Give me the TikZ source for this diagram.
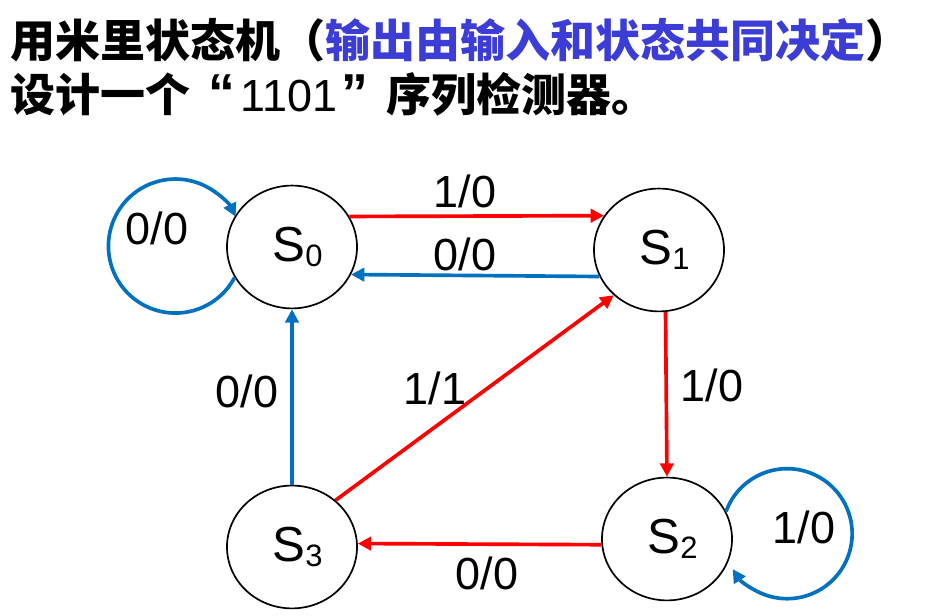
\documentclass[tikz,border=0pt]{standalone}
\usepackage{xcolor}
\usepackage{fontspec}
\setmainfont{Liberation Sans}
\newfontfamily\cjkfont{Noto Sans CJK SC}
\usetikzlibrary{arrows.meta,shapes.geometric}
\definecolor{edgered}{RGB}{255,0,0}
\definecolor{edgeblue}{RGB}{0,112,192}
\definecolor{titleblue}{RGB}{60,60,215}
\newcommand{\statelabel}[1]{\kern8pt S\raisebox{-4pt}{\fontsize{22}{22}\selectfont #1}}

\begin{document}
\begin{tikzpicture}[x=0.025cm, y=0.025cm,
    state/.style={ellipse, draw, line width=1.2pt, minimum width=3.25cm, minimum height=3.07cm, inner sep=0pt, font=\fontsize{35}{35}\selectfont},
    redarr/.style={draw=edgered, line width=2.6pt, -{Triangle[length=9.5pt,width=9.5pt]}},
    bluearr/.style={draw=edgeblue, line width=2.6pt, -{Triangle[length=9.5pt,width=9.5pt]}},
    lbl/.style={inner sep=0pt, font=\fontsize{32}{32}\selectfont},
    title/.style={anchor=west, inner sep=0pt, font=\cjkfont\bfseries\fontsize{32}{32}\selectfont}]
    \useasboundingbox (0,0) rectangle (950,616);
    % title
    \node[title] (title1) at (10,576) {用米里状态机（\textcolor{titleblue}{输出由输入和状态共同决定}）};
    \node[title] (title2) at (10,522) {设计一个\makebox[1em][r]{\rmfamily\bfseries\fontsize{38}{38}\selectfont “}\kern0.12em{\rmfamily\mdseries 1101}\kern0.1em\makebox[1em][l]{\rmfamily\bfseries\fontsize{38}{38}\selectfont ”}序列检测器。};
    % states
    \node[state] (S0) at (292,369) {\statelabel{0}};
    \node[state] (S1) at (659,366) {\statelabel{1}};
    \node[state] (S2) at (667,77) {\statelabel{2}};
    \node[state] (S3) at (292,69) {\statelabel{3}};
    % transitions
    \draw[redarr] (S0.28) -- (S1.148);
    \draw[bluearr] (S1.204) -- (S0.-25);
    \draw[redarr] (S1.-84) -- (S2.north);
    \draw[redarr] (S2.185) -- (S3.3);
    \draw[bluearr] (S3.north) -- (S0.south);
    \draw[redarr] (S3.47) -- (S1.225);
    \draw[bluearr] (S0.208) arc[start angle=-28, end angle=-334, radius=67];
    \draw[bluearr] (S2.25) arc[start angle=160, end angle=-147, radius=65];
    % labels
    \node[lbl] (l01) at (465,425) {1/0};
    \node[lbl] (l10) at (465,362) {0/0};
    \node[lbl] (l00) at (157,388) {0/0};
    \node[lbl] (l12) at (712,231) {1/0};
    \node[lbl] (l30) at (247,225) {0/0};
    \node[lbl] (l31) at (435,228) {1/1};
    \node[lbl] (l23) at (487,43) {0/0};
    \node[lbl] (l22) at (804,89) {1/0};
\end{tikzpicture}
\end{document}
